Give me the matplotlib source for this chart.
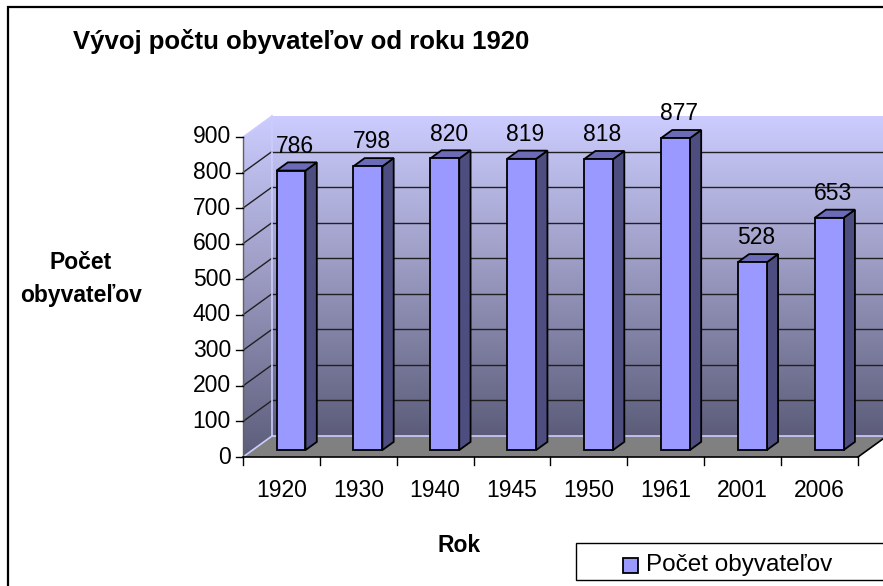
import numpy as np
import matplotlib
matplotlib.use("Agg")
import matplotlib.pyplot as plt
from matplotlib.patches import Polygon, Rectangle
from matplotlib.colors import LinearSegmentedColormap

# --- data ---
years = ["1920", "1930", "1940", "1945", "1950", "1961", "2001", "2006"]
population = [786, 798, 820, 819, 818, 877, 528, 653]
y_ticks = [0, 100, 200, 300, 400, 500, 600, 700, 800, 900]

title = "Vývoj počtu obyvateľov od roku 1920"
y_title = "Počet\nobyvateľov"
x_title = "Rok"
series_name = "Počet obyvateľov"

# --- layout (pixels of the 883x586 picture) ---
W, H = 883, 586
X0_PX, Y0_PX = 243, 457          # front corner of the floor
PX_PER_CAT = 76.875
PX_PER_UNIT = 0.3556
DX = 29 / PX_PER_CAT             # depth of the box in category units
DY = 21 / PX_PER_UNIT            # depth of the box in value units
T0, T1 = 0.33, 0.72              # bar front / back depth fractions
BAR_W = 0.377
YMAX = 900
n = len(years)

plt.rcParams['font.family'] = ['Liberation Sans', 'DejaVu Sans']

fig = plt.figure(figsize=(W / 100, H / 100), dpi=100)
ax = fig.add_axes([0, 0, 1, 1])
ax.set_autoscale_on(False)
ax.set_xlim(-X0_PX / PX_PER_CAT, (W - X0_PX) / PX_PER_CAT)
ax.set_ylim((Y0_PX - H) / PX_PER_UNIT, Y0_PX / PX_PER_UNIT)
ax.axis("off")

# chart border
fig.patches.append(Rectangle((8 / W, -0.05), 1.1, 1 - 7 / H + 0.05,
                             transform=fig.transFigure, fill=False,
                             edgecolor="black", lw=1.6))

# --- walls with gradient ---
wall_cmap = LinearSegmentedColormap.from_list("wall", ["#5c5c7a", "#9898bf", "#ccccff"])
grad = np.linspace(0, 1, 256).reshape(-1, 1)

back = Polygon([(DX, DY), (n + DX, DY), (n + DX, YMAX + DY), (DX, YMAX + DY)],
               closed=True, facecolor="none", edgecolor="none")
ax.add_patch(back)
im = ax.imshow(grad, extent=[DX, n + DX, DY, YMAX + DY], origin="lower",
               cmap=wall_cmap, aspect="auto", zorder=0)
im.set_clip_path(back)

side = Polygon([(0, 0), (DX, DY), (DX, YMAX + DY), (0, YMAX)],
               closed=True, facecolor="none", edgecolor="none")
ax.add_patch(side)
im2 = ax.imshow(grad, extent=[0, DX, 0, YMAX + DY], origin="lower",
                cmap=wall_cmap, aspect="auto", zorder=0)
im2.set_clip_path(side)

floor = Polygon([(0, 0), (n, 0), (n + DX, DY), (DX, DY)], closed=True,
                facecolor="#808080", edgecolor="none", zorder=1)
ax.add_patch(floor)

# light edges of the walls
ax.plot([DX, DX], [DY, YMAX + DY], color="#ccccff", lw=1.2, zorder=1.5)
ax.plot([DX, n + DX], [DY, DY], color="#ccccff", lw=1.2, zorder=1.5)
ax.plot([0, DX], [0, DY], color="#ccccff", lw=1.2, zorder=1.5)
ax.plot([0, DX], [YMAX, YMAX + DY], color="#ccccff", lw=1.0, zorder=1.5)

# gridlines on back wall and side wall
for v in y_ticks[1:-1]:
    ax.plot([DX, n + DX], [v + DY, v + DY], color="#202020", lw=1.0, zorder=1.2)
    ax.plot([0, DX], [v, v + DY], color="#202020", lw=1.0, zorder=1.2)

# front axes
ax.plot([0, 0], [0, YMAX], color="#606060", lw=1.0, zorder=2)
ax.plot([0, n], [0, 0], color="black", lw=1.2, zorder=2)
ax.plot([n, n + DX], [0, DY], color="black", lw=1.2, zorder=2)
tick_dx = 7 / PX_PER_CAT
tick_dy = 8 / PX_PER_UNIT
for v in y_ticks:
    ax.plot([-tick_dx, 0], [v, v], color="black", lw=1.0, zorder=2)
    ax.text(-12 / PX_PER_CAT, v, str(v), ha="right", va="center", fontsize=16.5)
for i in range(n + 1):
    ax.plot([i, i], [0, -tick_dy], color="black", lw=1.0, zorder=2)
for i, yr in enumerate(years):
    ax.text(i + 0.5, -93, yr, ha="center", va="center", fontsize=16.5)

# --- bars ---
x = np.arange(n) + 0.5
bars = ax.bar(x + T0 * DX, population, width=BAR_W, bottom=T0 * DY,
              color="#9999ff", edgecolor="black", lw=1.3, zorder=5,
              label=series_name)
for xc, v in zip(x, population):
    xl, xr = xc - BAR_W / 2, xc + BAR_W / 2
    side_face = [(xr + T0 * DX, T0 * DY), (xr + T1 * DX, T1 * DY),
                 (xr + T1 * DX, v + T1 * DY), (xr + T0 * DX, v + T0 * DY)]
    top_face = [(xl + T0 * DX, v + T0 * DY), (xr + T0 * DX, v + T0 * DY),
                (xr + T1 * DX, v + T1 * DY), (xl + T1 * DX, v + T1 * DY)]
    ax.add_patch(Polygon(side_face, closed=True, facecolor="#4d4d80",
                         edgecolor="black", lw=1.3, zorder=4))
    ax.add_patch(Polygon(top_face, closed=True, facecolor="#6b6bb8",
                         edgecolor="black", lw=1.3, zorder=4))
    ax.text(xc + T0 * DX + 0.05, v + 88, str(v), ha="center", va="center",
            fontsize=16.5, zorder=6)

# --- titles ---
fig.text(73 / W, 1 - 42 / H, title, ha="left", va="center",
         fontsize=18.5, fontweight="bold")
fig.text(81 / W, 1 - 279 / H, y_title, ha="center", va="center",
         fontsize=16.5, fontweight="bold", linespacing=1.55)
fig.text(459 / W, 1 - 546 / H, x_title, ha="center", va="center",
         fontsize=16.5, fontweight="bold")

# --- legend (box runs past the right edge like the original) ---
fig.patches.append(Rectangle((576 / W, 1 - 580 / H), 330 / W, 37 / H,
                             transform=fig.transFigure, facecolor="white",
                             edgecolor="black", lw=1.0, zorder=10))
fig.patches.append(Rectangle((623 / W, 1 - 573 / H), 15 / W, 15 / H,
                             transform=fig.transFigure,
                             facecolor=bars.patches[0].get_facecolor(),
                             edgecolor="black", lw=1.3, zorder=11))
fig.text(646 / W, 1 - 565 / H, series_name, ha="left", va="center",
         fontsize=17.5, zorder=12)

fig.savefig("out.png", dpi=100)
